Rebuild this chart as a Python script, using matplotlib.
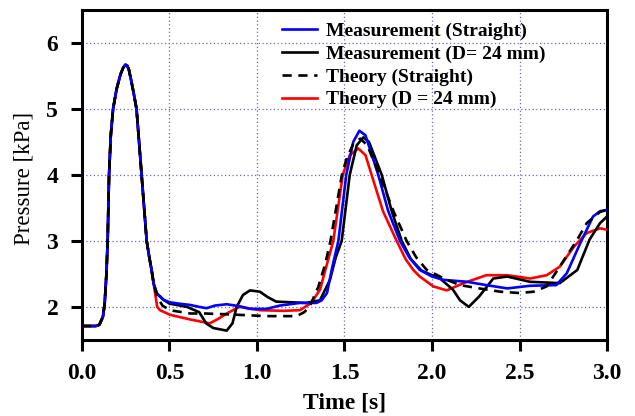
import matplotlib
matplotlib.use('Agg')
import matplotlib.pyplot as plt

plt.rcParams['font.family'] = ['Liberation Serif', 'DejaVu Serif']

# Shared first pulse (all four curves overlap here)
t_start = [0.0, 0.08, 0.10, 0.12, 0.13, 0.14, 0.147, 0.155, 0.165, 0.178,
           0.198, 0.22, 0.235, 0.248, 0.258, 0.268, 0.28, 0.295, 0.312, 0.341,
           0.37, 0.385, 0.398, 0.41]
p_start = [1.71, 1.71, 1.73, 1.85, 2.05, 2.5, 3.0, 4.0, 4.6, 5.0,
           5.3, 5.52, 5.62, 5.67, 5.66, 5.6, 5.45, 5.25, 5.0, 4.0,
           3.0, 2.75, 2.56, 2.35]

# Measurement (Straight)
t_meas_str = [0.427, 0.446, 0.47, 0.503, 0.55, 0.617, 0.67, 0.712, 0.76, 0.827,
              0.9, 0.96, 1.055, 1.13, 1.246, 1.34, 1.37, 1.40, 1.43, 1.465,
              1.51, 1.55, 1.585, 1.62, 1.693, 1.75, 1.817, 1.87, 1.93, 2.0,
              2.065, 2.2, 2.31, 2.43, 2.56, 2.71, 2.77, 2.846, 2.92, 2.96, 3.0]
p_meas_str = [2.2, 2.16, 2.1, 2.07, 2.05, 2.03, 2.0, 1.98, 2.02, 2.04,
              2.01, 1.97, 1.97, 2.02, 2.06, 2.06, 2.1, 2.21, 2.6, 3.0,
              4.0, 4.5, 4.67, 4.6, 4.0, 3.45, 3.0, 2.75, 2.56, 2.46,
              2.41, 2.38, 2.33, 2.28, 2.32, 2.33, 2.51, 2.96, 3.37, 3.45, 3.47]

# Measurement (D = 24 mm)
t_meas_d24 = [0.43, 0.46, 0.5, 0.6, 0.67, 0.71, 0.75, 0.827, 0.86, 0.884,
              0.92, 0.96, 1.017, 1.06, 1.11, 1.28, 1.36, 1.417, 1.45, 1.484,
              1.53, 1.57, 1.608, 1.64, 1.713, 1.77, 1.827, 1.88, 1.94, 2.0,
              2.046, 2.12, 2.16, 2.21, 2.27, 2.35, 2.43, 2.56, 2.73, 2.83,
              2.90, 2.96, 3.0]
p_meas_d24 = [2.2, 2.12, 2.05, 2.0, 1.92, 1.75, 1.68, 1.64, 1.75, 2.0,
              2.18, 2.25, 2.23, 2.15, 2.08, 2.06, 2.1, 2.41, 2.75, 3.0,
              4.0, 4.45, 4.57, 4.5, 4.0, 3.45, 3.0, 2.72, 2.55, 2.48,
              2.43, 2.26, 2.1, 2.0, 2.16, 2.43, 2.46, 2.38, 2.36, 2.56,
              3.02, 3.27, 3.37]

# Theory (Straight)
t_theo_str = [0.43, 0.46, 0.503, 0.617, 0.7, 0.807, 1.055, 1.227, 1.27, 1.30,
              1.35, 1.39, 1.42, 1.485, 1.51, 1.55, 1.59, 1.63, 1.70, 1.78,
              1.855, 1.91, 1.97, 2.046, 2.065, 2.16, 2.27, 2.39, 2.50, 2.58,
              2.655, 2.73, 2.83, 2.884, 2.96, 3.0]
p_theo_str = [2.15, 2.02, 1.95, 1.90, 1.90, 1.89, 1.86, 1.86, 1.92, 2.0,
              2.3, 2.65, 3.0, 4.0, 4.23, 4.47, 4.55, 4.45, 4.0, 3.45,
              3.0, 2.75, 2.56, 2.46, 2.43, 2.33, 2.28, 2.23, 2.21, 2.23,
              2.31, 2.61, 3.02, 3.27, 3.44, 3.47]

# Theory (D = 24 mm)
t_theo_d24 = [0.43, 0.446, 0.503, 0.617, 0.73, 0.78, 0.827, 0.9, 1.017, 1.15,
              1.246, 1.31, 1.36, 1.40, 1.436, 1.49, 1.53, 1.579, 1.62, 1.655,
              1.72, 1.798, 1.85, 1.893, 1.93, 2.008, 2.084, 2.18, 2.31, 2.43,
              2.56, 2.655, 2.73, 2.81, 2.884, 2.96, 3.0]
p_theo_d24 = [2.0, 1.95, 1.88, 1.81, 1.75, 1.82, 1.90, 2.0, 1.95, 1.94,
              1.95, 2.06, 2.26, 2.65, 3.0, 4.0, 4.3, 4.40, 4.3, 4.0,
              3.45, 3.0, 2.72, 2.56, 2.46, 2.31, 2.25, 2.36, 2.48, 2.48,
              2.43, 2.48, 2.61, 2.91, 3.12, 3.19, 3.17]

fig = plt.figure(figsize=(6.35, 4.16), dpi=100)
ax = fig.add_axes([0.129, 0.183, 0.827, 0.793])

lw = 1.9
ax.plot(t_start + t_theo_d24, p_start + p_theo_d24, color='#ff0000', lw=lw, zorder=3)
ax.plot(t_start + t_meas_d24, p_start + p_meas_d24, color='black', lw=lw, zorder=4)
ax.plot(t_start + t_meas_str, p_start + p_meas_str, color='#0000ff', lw=lw, zorder=5)
ax.plot(t_start + t_theo_str, p_start + p_theo_str, color='black', lw=lw,
        ls=(0, (3.5, 2.5)), zorder=6)

# legend drawn in the order of the original
handles = [
    plt.Line2D([], [], color='#0000ff', lw=lw),
    plt.Line2D([], [], color='black', lw=lw),
    plt.Line2D([], [], color='black', lw=lw, ls=(0, (3.5, 2.5))),
    plt.Line2D([], [], color='#ff0000', lw=lw),
]
labels = ['Measurement (Straight)', 'Measurement (D= 24 mm)',
          'Theory (Straight)', 'Theory (D = 24 mm)']
ax.legend(handles, labels, loc='upper left', bbox_to_anchor=(0.381, 0.962),
          frameon=False, borderpad=0, borderaxespad=0, handlelength=1.8,
          handletextpad=0.45, labelspacing=0.26,
          prop={'family': 'Liberation Serif', 'weight': 'bold', 'size': 14})

ax.set_xlim(0, 3.0)
ax.set_ylim(1.5, 6.5)
ax.set_xticks([0.0, 0.5, 1.0, 1.5, 2.0, 2.5, 3.0])
ax.set_yticks([2, 3, 4, 5, 6])
ax.set_xticklabels(['0.0', '0.5', '1.0', '1.5', '2.0', '2.5', '3.0'])
ax.set_yticklabels(['2', '3', '4', '5', '6'])

ax.grid(True, color='#6a6ab0', ls=(0, (1, 2)), lw=0.9)
for s in ax.spines.values():
    s.set_linewidth(2.2)
ax.tick_params(direction='out', length=8, width=2.2, labelsize=17, pad=9)
for lab in ax.get_xticklabels() + ax.get_yticklabels():
    lab.set_fontweight('bold')

ax.set_xlabel('Time [s]', fontsize=17, fontweight='bold', labelpad=6)
ax.set_ylabel('Pressure [kPa]', fontsize=16.5)
ax.yaxis.set_label_coords(-0.09, 0.49)

fig.savefig('out.png', dpi=100)
